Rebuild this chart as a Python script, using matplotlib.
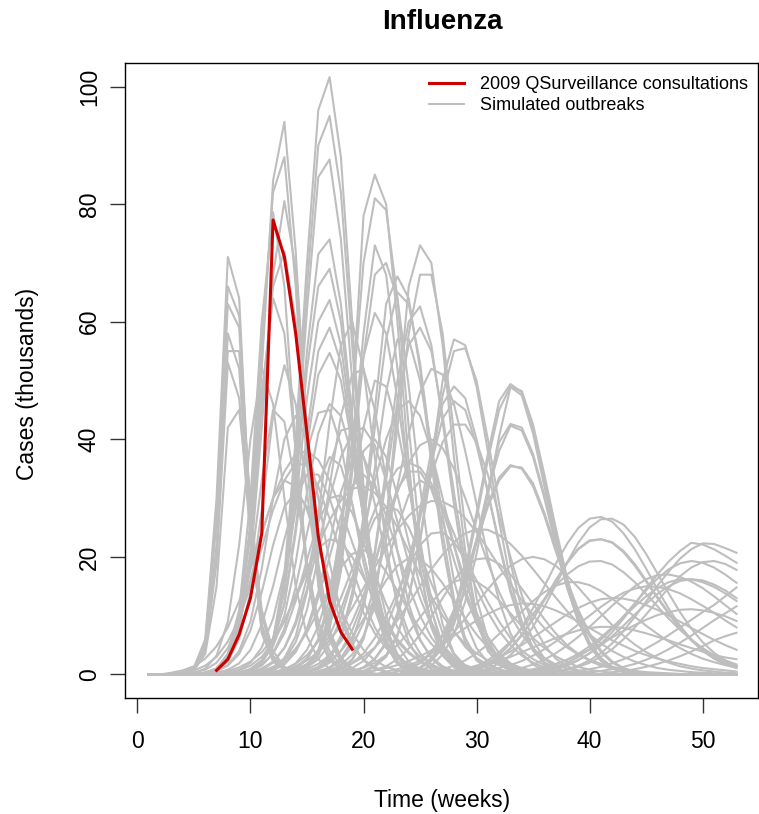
import numpy as np
import matplotlib
matplotlib.use("Agg")
import matplotlib.pyplot as plt

plt.rcParams['font.family'] = ['Liberation Sans', 'DejaVu Sans']

# weeks shown on the x axis
weeks = np.arange(1, 54)

# 2009 QSurveillance consultations (thousands), weeks 7..19
obs_start = 7
obs_cases = [0.7, 2.6, 6.8, 13.0, 24.0, 77.3, 71.0, 58.0, 41.0, 23.5, 12.5, 7.2, 4.3]

# simulated outbreaks: (first week, weekly cases in thousands)
sims_wk8 = [
    (3, [0.1, 0.3, 1.2, 6.0, 30, 71, 64, 25, 7.0, 2.2, 0.8, 0.3, 0.1]),
    (3, [0.1, 0.3, 1.1, 5.5, 28, 66, 61, 26, 7.5, 2.4, 0.8, 0.3, 0.1]),
    (3, [0.1, 0.3, 1.0, 5.0, 26, 63, 59, 27, 8.0, 2.6, 0.9, 0.3, 0.1]),
    (3, [0.1, 0.2, 0.8, 4.2, 20, 58, 52, 24, 8.5, 2.8, 1.0, 0.3, 0.1]),
    (3, [0.1, 0.2, 0.9, 4.5, 22, 55, 55, 29, 10, 3.2, 1.1, 0.4, 0.1]),
    (3, [0.1, 0.2, 0.8, 4.0, 19, 53, 47, 23, 8.0, 2.6, 0.9, 0.3, 0.1]),
    (3, [0.1, 0.2, 0.7, 3.5, 15, 42, 45, 27, 11, 4.0, 1.3, 0.4, 0.1]),
]
sims_wk12 = [
    (6, [0.3, 1.0, 3.0, 9.0, 24, 52, 84, 94, 72, 40, 17, 6.5, 2.4, 0.9, 0.3, 0.1]),
    (6, [0.3, 1.0, 3.2, 9.5, 26, 56, 82, 88, 66, 36, 15, 5.8, 2.1, 0.8, 0.3, 0.1]),
    (6, [0.3, 0.9, 2.6, 7.5, 19, 42, 68, 80.5, 69, 42, 19, 7.5, 2.8, 1.0, 0.3, 0.1]),
    (6, [0.3, 1.0, 3.5, 11, 30, 60, 78.6, 66, 38, 17, 6.5, 2.4, 0.9, 0.3, 0.1]),
    (6, [0.3, 0.9, 2.8, 8.0, 21, 46, 66, 72, 60, 37, 18, 7.5, 2.8, 1.0, 0.3, 0.1]),
    (6, [0.3, 1.0, 3.5, 10, 25, 48, 64, 58, 38, 19, 8.0, 3.0, 1.1, 0.4, 0.1]),
    (6, [0.2, 0.7, 2.2, 6.0, 14, 28, 44, 52.6, 46, 31, 16, 7.0, 2.8, 1.0, 0.4, 0.1]),
    (6, [0.3, 1.0, 3.0, 8.0, 18, 33, 45, 43, 32, 19, 9.0, 4.0, 1.5, 0.5, 0.2]),
    (5, [0.3, 1.0, 3.2, 9.0, 22, 40, 52, 46, 30, 15, 6.5, 2.6, 1.0, 0.4, 0.1]),
]
sims_wk17 = [
    (9, [0.2, 0.7, 2.0, 6.0, 17, 40, 70, 96, 101.6, 88, 60, 32, 14, 5.5, 2.0, 0.7, 0.2]),
    (9, [0.2, 0.6, 1.9, 5.6, 16, 37, 66, 90, 95, 82, 56, 30, 13, 5.0, 1.8, 0.6, 0.2]),
    (9, [0.2, 0.7, 2.0, 5.5, 15, 35, 62, 84.6, 87.6, 74, 50, 27, 12, 5.0, 1.8, 0.6, 0.2]),
    (9, [0.3, 0.8, 2.2, 6.0, 15, 33, 55, 71.5, 74, 63, 44, 26, 13, 5.5, 2.2, 0.8, 0.3]),
    (9, [0.3, 0.8, 2.1, 5.8, 14.5, 32, 52, 66, 69, 60, 43, 26, 13, 5.5, 2.2, 0.8, 0.3]),
    (9, [0.3, 0.9, 2.4, 6.0, 14, 29, 47, 60, 63.7, 56, 42, 27, 15, 7.0, 3.0, 1.1, 0.4]),
    (9, [0.3, 0.9, 2.3, 5.5, 12, 25, 41, 55, 59, 53, 40, 27, 15.5, 7.5, 3.2, 1.2, 0.4]),
    (9, [0.3, 0.9, 2.4, 5.5, 12, 24, 39, 51, 54.7, 50, 39, 27, 16, 8.0, 3.5, 1.4, 0.5]),
    (9, [0.3, 0.8, 2.1, 4.8, 10, 19, 31, 41, 46, 44, 37, 27, 18, 10, 5.0, 2.2, 0.9, 0.3]),
]
sims_wk21 = [
    (13, [0.2, 0.5, 1.3, 3.5, 9.0, 22, 46, 78, 85, 80, 60, 36, 18, 8.0, 3.2, 1.2, 0.4]),
    (13, [0.3, 0.7, 1.7, 4.2, 10.5, 24, 46, 70, 81, 79, 64, 42, 23, 11, 4.5, 1.7, 0.6, 0.2]),
    (14, [0.5, 1.3, 3.5, 8.5, 19, 37, 58, 73, 68, 52, 33, 18, 8.5, 3.5, 1.4, 0.5]),
    (14, [0.5, 1.2, 3.2, 7.8, 17.5, 34.5, 54, 68, 70, 64, 49, 32, 18, 8.5, 3.6, 1.4, 0.5]),
    (13, [0.4, 1.0, 2.5, 6.0, 13, 25, 40, 54, 61.5, 58, 47, 33, 20, 11, 5.0, 2.2, 0.9, 0.3]),
    (13, [0.5, 1.2, 2.8, 6.0, 11.5, 20, 31, 42, 50, 49, 42, 32, 22, 13, 7.0, 3.4, 1.5, 0.6, 0.2]),
    (11, [0.4, 1.1, 2.8, 6.5, 14, 27, 43, 56, 60, 52, 37, 22, 11.5, 5.5, 2.3, 0.9, 0.3]),
    (11, [0.4, 1.0, 2.5, 5.5, 11, 20, 32, 44, 51, 52, 45, 33, 21, 12, 6.0, 2.7, 1.1, 0.4]),
]
sims_wk23 = [
    (15, [0.4, 1.1, 2.8, 6.5, 14, 27, 45, 63, 67.7, 64, 52, 36, 22, 11.5, 5.5, 2.4, 1.0, 0.4]),
    (15, [0.4, 1.0, 2.6, 6.0, 13, 25.5, 42, 57, 65, 63, 53, 38, 24, 13, 6.2, 2.7, 1.1, 0.4]),
    (15, [0.5, 1.3, 3.0, 6.5, 13, 23, 35, 48, 57, 57, 50, 39, 27, 16, 9.0, 4.5, 2.0, 0.8, 0.3]),
    (14, [0.5, 1.2, 2.6, 5.2, 9.5, 16, 24, 33, 40, 45, 46.5, 44, 38, 30, 22, 14.5, 8.8, 5.0,
          2.6, 1.3, 0.6, 0.2]),
]
sims_wk25 = [
    (17, [0.3, 0.9, 2.4, 6.0, 13, 26, 45, 66, 73, 70, 56, 37, 21, 10, 4.3, 1.7, 0.6, 0.2]),
    (17, [0.4, 1.0, 2.6, 6.3, 13.5, 26, 42, 58, 68, 68, 58, 41, 25, 13, 6.0, 2.4, 0.9, 0.3]),
    (16, [0.4, 1.0, 2.5, 5.5, 11.5, 21, 35, 50, 60, 62.6, 56, 43, 29, 17, 9.0, 4.0, 1.7, 0.7, 0.3]),
    (16, [0.5, 1.2, 2.8, 5.8, 11.5, 20.5, 33, 46.5, 56, 59, 55, 44, 31, 19, 10.5, 5.0, 2.2, 0.9,
          0.3]),
    (16, [0.5, 1.1, 2.4, 4.8, 8.8, 15, 23, 32, 41, 48, 52, 51, 46, 38, 29, 20, 12.5, 7.0, 3.6,
          1.7, 0.7, 0.3]),
]
sims_wk28 = [
    (20, [0.5, 1.3, 3.0, 6.5, 13, 23, 36, 50, 57, 56, 49, 38, 26, 16, 9.0, 4.5, 2.0, 0.9, 0.4]),
    (20, [0.6, 1.5, 3.3, 6.8, 13, 22.5, 35, 47.5, 55, 55.5, 50, 40, 29, 19, 11, 5.8, 2.7, 1.2, 0.5]),
    (19, [0.5, 1.2, 2.7, 5.5, 10.5, 18, 28, 38, 46, 49, 47, 40, 31, 22, 14, 8.0, 4.0, 1.9, 0.8, 0.3]),
    (19, [0.5, 1.2, 2.6, 5.2, 9.8, 17, 26.5, 36, 43.5, 46.5, 45, 39, 31, 22.5, 14.5, 8.5, 4.4,
          2.1, 0.9, 0.3]),
    (18, [0.5, 1.1, 2.3, 4.5, 8.0, 13, 19.5, 27, 34, 39.5, 42.5, 42.5, 39.5, 34, 27, 20, 13.5,
          8.5, 5.0, 2.7, 1.4, 0.7, 0.3]),
]
sims_wk33 = [
    (24, [0.5, 1.2, 2.8, 5.5, 10.5, 18, 27.5, 37.5, 46.5, 49.4, 48, 42, 33, 24, 15.5, 9.0, 4.8,
          2.3, 1.0, 0.4]),
    (24, [0.4, 1.0, 2.5, 5.0, 9.8, 17, 26.5, 36.5, 45, 49, 48.2, 42.5, 34, 25, 16.5, 9.8, 5.3,
          2.6, 1.2, 0.5]),
    (25, [0.6, 1.5, 3.4, 6.8, 12.4, 20.5, 30.5, 40.5, 48.9, 47.5, 41, 32, 23, 15, 9.0, 5.0, 2.5,
          1.1, 0.4]),
    (24, [0.5, 1.1, 2.4, 4.8, 9.0, 15, 23, 31.5, 39.5, 42.6, 42, 37.5, 30.5, 22.5, 15, 9.5, 5.5,
          2.8, 1.3, 0.6, 0.2]),
    (24, [0.5, 1.1, 2.3, 4.5, 8.5, 14.5, 22.5, 31, 38, 42.3, 41.5, 37, 30, 22, 14.8, 9.2, 5.2,
          2.6, 1.2, 0.5]),
    (23, [0.5, 1.0, 2.0, 3.8, 6.8, 11, 16.5, 23, 29, 33.5, 35.6, 35, 32, 27, 21, 15.5, 10.5, 6.5,
          3.8, 2.0, 1.0, 0.5, 0.2]),
    (23, [0.5, 1.0, 1.9, 3.6, 6.5, 10.7, 16, 22.5, 28.5, 33, 35.4, 35.2, 32.5, 27.5, 21.5, 16, 11,
          7.0, 4.1, 2.2, 1.1, 0.5, 0.2]),
]
sims_wk41 = [
    (29, [0.5, 1.0, 1.9, 3.3, 5.3, 8.0, 11.3, 15, 18.8, 22.2, 24.9, 26.5, 26.8, 26, 24, 21.3, 18,
          14.5, 11.2, 8.3, 5.9, 4.0, 2.7, 1.7, 1.1]),
    (30, [0.5, 1.0, 1.9, 3.3, 5.3, 8.1, 11.5, 15.2, 19, 22.4, 25, 26.4, 26.5, 25.5, 23.4, 20.5,
          17.2, 13.8, 10.6, 7.8, 5.5, 3.7, 2.4, 1.5]),
    (29, [0.4, 0.8, 1.6, 2.8, 4.5, 6.8, 9.6, 12.8, 16, 19, 21.4, 22.8, 23, 22.4, 20.8, 18.5, 15.8,
          13, 10.3, 7.8, 5.8, 4.1, 2.9, 2.0, 1.3]),
    (29, [0.4, 0.8, 1.5, 2.7, 4.4, 6.6, 9.4, 12.6, 15.9, 18.9, 21.3, 22.7, 23, 22.5, 21, 18.8, 16,
          13.2, 10.5, 8.0, 6.0, 4.3, 3.0, 2.1, 1.4]),
    (28, [0.4, 0.8, 1.4, 2.4, 3.8, 5.6, 7.8, 10.3, 12.8, 15.1, 17, 18.4, 19.2, 19.3, 18.7, 17.4,
          15.7, 13.7, 11.6, 9.5, 7.6, 5.9, 4.5, 3.3, 2.4, 1.7]),
]
sims_wk49 = [
    (36, [0.5, 0.9, 1.5, 2.4, 3.6, 5.2, 7.2, 9.5, 12, 14.6, 17, 19.2, 21, 22.4, 22.1, 21.3, 20.2, 19]),
    (37, [0.5, 0.9, 1.5, 2.4, 3.6, 5.3, 7.4, 9.8, 12.4, 15.1, 17.5, 19.7, 21.3, 22.3, 22.2, 21.5,
          20.7]),
    (35, [0.5, 0.8, 1.3, 2.0, 3.0, 4.3, 5.9, 7.8, 9.9, 12.1, 14.3, 16.3, 17.9, 18.9, 19.3, 19,
          18.2, 17, 15.6]),
    (37, [0.5, 0.8, 1.3, 2.0, 3.0, 4.3, 6.0, 8.0, 10.2, 12.5, 14.7, 16.7, 18.2, 19.1, 19.3, 18.8,
          17.8]),
    (34, [0.4, 0.7, 1.1, 1.7, 2.5, 3.5, 4.8, 6.3, 8.0, 9.8, 11.6, 13.3, 14.7, 15.7, 16.2, 16.2,
          15.7, 14.9, 13.8, 12.5]),
    (35, [0.4, 0.7, 1.1, 1.7, 2.5, 3.6, 4.9, 6.5, 8.3, 10.2, 12, 13.7, 15, 15.9, 16.2, 16, 15.3,
          14.3, 13]),
]
sims_tail = [
    (32, [0.4, 0.7, 1.1, 1.7, 2.5, 3.6, 4.9, 6.4, 8.1, 9.9, 11.7, 13.4, 15, 16.2, 16.9, 17, 16.6,
          15.8, 14.7, 13.3, 11.8, 10.3]),
    (30, [0.4, 0.7, 1.1, 1.6, 2.3, 3.2, 4.3, 5.6, 7.0, 8.5, 10, 11.5, 12.8, 13.9, 14.6, 15, 14.9,
          14.5, 13.8, 12.8, 11.7, 10.5, 9.2, 8.0]),
    (27, [0.4, 0.7, 1.0, 1.5, 2.1, 2.9, 3.9, 5.0, 6.3, 7.6, 8.9, 10.2, 11.3, 12.2, 12.8, 13, 12.9,
          12.5, 11.8, 11, 10, 9.0, 7.9, 6.9, 5.9, 5.0, 4.2]),
    (26, [0.5, 0.9, 1.5, 2.4, 3.6, 5.1, 6.9, 8.8, 10.7, 12.5, 14, 15.1, 15.7, 15.7, 15.2, 14.2,
          12.9, 11.4, 9.8, 8.3, 6.9, 5.6, 4.5, 3.5, 2.7, 2.1, 1.6, 1.2]),
    (33, [0.4, 0.6, 0.9, 1.3, 1.8, 2.5, 3.3, 4.2, 5.2, 6.3, 7.4, 8.4, 9.3, 10.1, 10.6, 11, 11.1,
          10.9, 10.5, 9.9, 9.1]),
    (38, [0.4, 0.6, 0.9, 1.3, 1.9, 2.6, 3.4, 4.4, 5.5, 6.7, 8.0, 9.3, 10.6, 11.8, 13.3, 14.8]),
    (40, [0.4, 0.6, 0.9, 1.3, 1.8, 2.5, 3.3, 4.3, 5.4, 6.6, 7.9, 9.2, 10.4, 11.6]),
    (42, [0.4, 0.6, 0.9, 1.3, 1.8, 2.4, 3.1, 3.9, 4.8, 5.8, 6.5, 7.1]),
    (27, [0.3, 0.5, 0.8, 1.2, 1.7, 2.3, 3.0, 3.8, 4.6, 5.4, 6.2, 6.9, 7.5, 7.9, 8.1, 8.1, 7.9,
          7.5, 7.0, 6.4, 5.8, 5.1, 4.5, 3.9, 3.3, 2.9, 2.6]),
    (22, [0.5, 0.9, 1.5, 2.4, 3.6, 5.2, 7.2, 9.5, 12, 14.5, 16.7, 18.5, 19.6, 20, 19.6, 18.5,
          16.8, 14.8, 12.6, 10.4, 8.4, 6.6, 5.1, 3.8, 2.8, 2.0, 1.4, 1.0, 0.7, 0.5, 0.3, 0.2]),
    (20, [0.4, 0.7, 1.1, 1.6, 2.3, 3.1, 4.1, 5.3, 6.6, 7.9, 9.2, 10.3, 11.2, 11.8, 12.1, 12, 11.6,
          10.9, 10, 9.0, 7.9, 6.8, 5.8, 4.9, 4.0, 3.3, 2.7, 2.2, 1.8, 1.4, 1.1, 0.9, 0.7, 0.5]),
]
sims_broad = [
    (12, [0.4, 0.8, 1.4, 2.4, 3.8, 5.8, 8.3, 11.3, 14.7, 18.2, 21.6, 24.6, 27, 28.7, 29.5, 29.4,
          28.4, 26.6, 24.2, 21.4, 18.4, 15.4, 12.6, 10.1, 7.9, 6.1, 4.6, 3.4, 2.5, 1.8, 1.3, 0.9,
          0.6, 0.4, 0.3, 0.2, 0.1]),
    (16, [0.3, 0.6, 1.1, 1.9, 3.0, 4.6, 6.7, 9.2, 12, 15, 17.9, 20.4, 22.5, 24, 24.7, 24.6, 23.7,
          22.2, 20.2, 17.9, 15.5, 13.1, 10.8, 8.7, 6.8, 5.3, 4.0, 3.0, 2.2, 1.6, 1.1, 0.8, 0.6,
          0.4, 0.3, 0.2, 0.1, 0.1]),
    (3, [0.3, 0.7, 1.4, 2.7, 4.8, 8.0, 12.5, 18, 24, 30, 34.5, 37.5, 38, 36.5, 33, 28, 22.5, 17,
         12.3, 8.5, 5.6, 3.6, 2.2, 1.3, 0.8, 0.5, 0.3, 0.2]),
    (7, [0.3, 0.6, 1.2, 2.2, 3.8, 6.1, 9.2, 13, 17.4, 22, 26.2, 29.6, 31.6, 32, 30.9, 28.5, 25, 21,
         17, 13.3, 10, 7.3, 5.2, 3.6, 2.4, 1.6, 1.0, 0.6, 0.4, 0.2]),
    (10, [0.4, 1.0, 2.2, 4.5, 8.5, 14.5, 22, 30, 37, 41, 42, 39, 33, 26, 19, 13, 8.3, 5.0, 2.9,
          1.6, 0.9, 0.5, 0.2]),
    (4, [0.3, 0.7, 1.5, 3.0, 5.6, 9.5, 15, 21.5, 28, 33, 36, 35.5, 32, 26.5, 20.5, 15, 10.5, 7.0,
         4.5, 2.8, 1.7, 1.0, 0.6, 0.3]),
    (12, [0.4, 0.9, 1.8, 3.3, 5.6, 8.8, 13, 18, 23, 28, 32, 35, 36, 35.2, 32.5, 28.5, 24, 19,
          14.5, 10.6, 7.4, 5.0, 3.2, 2.0, 1.2, 0.7, 0.4, 0.2]),
    (14, [0.4, 0.9, 1.8, 3.3, 5.6, 9.0, 13.5, 19, 25, 31, 36, 39, 40, 38.5, 35, 30, 24.5, 19, 14,
          10, 6.8, 4.4, 2.8, 1.7, 1.0, 0.6, 0.3]),
    (5, [0.3, 0.8, 2.0, 4.5, 9.0, 16, 24, 30, 33, 32, 28, 22, 16, 11, 7.0, 4.2, 2.4, 1.3, 0.7, 0.3]),
    (7, [0.3, 0.8, 1.9, 4.2, 8.5, 15, 23, 30, 34, 34, 30, 24, 18, 12.5, 8.0, 5.0, 3.0, 1.7, 0.9,
         0.4]),
    (9, [0.3, 0.7, 1.6, 3.5, 7.0, 12.5, 19.5, 26, 30, 30.5, 27.5, 22.5, 17, 12, 8.0, 5.0, 3.0,
         1.7, 0.9, 0.4]),
    (11, [0.4, 0.9, 2.0, 4.0, 7.5, 13, 20, 27, 32, 34, 32, 27, 21, 15, 10, 6.3, 3.8, 2.2, 1.2,
          0.6, 0.3]),
    (13, [0.3, 0.8, 1.8, 3.6, 6.6, 11, 16.5, 22, 26.5, 28.5, 28, 25, 20.5, 15.5, 11, 7.4, 4.7,
          2.8, 1.6, 0.9, 0.4]),
    (17, [0.4, 0.9, 1.9, 3.6, 6.2, 9.8, 14, 18.5, 22, 24, 24.2, 22.5, 19.5, 16, 12.3, 9.0, 6.2,
          4.1, 2.6, 1.6, 0.9, 0.5, 0.3]),
    (20, [0.3, 0.7, 1.4, 2.6, 4.4, 6.8, 9.8, 13, 16, 18.3, 19.6, 19.8, 18.8, 17, 14.6, 12, 9.4,
          7.0, 5.0, 3.5, 2.3, 1.5, 1.0, 0.6, 0.4, 0.2]),
    (6, [0.2, 0.6, 1.6, 4.0, 9.0, 18, 30, 40, 44, 40, 30, 19, 10.5, 5.2, 2.4, 1.0, 0.4]),
    (8, [0.3, 0.8, 2.0, 4.6, 9.5, 17.5, 28, 38, 44.5, 45, 39, 29, 19, 11, 5.8, 2.8, 1.3, 0.5]),
    (10, [0.3, 0.8, 2.0, 4.5, 9.0, 16.5, 26, 35.5, 41.5, 42, 37, 29, 20, 12.5, 7.0, 3.6, 1.7,
          0.7, 0.3]),
    (12, [0.3, 0.8, 1.9, 4.2, 8.2, 14.5, 23, 31.5, 38, 40, 37, 30.5, 22.5, 15, 9.0, 5.0, 2.6,
          1.2, 0.5]),
    (15, [0.4, 0.9, 2.0, 4.0, 7.5, 12.5, 19, 26, 31.5, 34.5, 34.5, 31.5, 26, 19.5, 13.5, 8.7,
          5.2, 2.9, 1.5, 0.7, 0.3]),
    (8, [0.3, 0.7, 1.5, 3.0, 5.5, 9.0, 13.5, 18, 21.5, 23, 22.5, 20, 16.5, 12.5, 9.0, 6.0, 3.8,
         2.3, 1.3, 0.7, 0.3]),
    (10, [0.3, 0.6, 1.3, 2.5, 4.4, 7.2, 10.8, 14.7, 18.2, 20.5, 21.2, 20, 17.5, 14.2, 10.8, 7.7,
          5.2, 3.3, 2.0, 1.1, 0.6, 0.3]),
    (14, [0.3, 0.6, 1.2, 2.3, 4.0, 6.4, 9.4, 12.8, 16, 18.5, 19.8, 19.6, 18, 15.5, 12.5, 9.5, 6.8,
          4.6, 3.0, 1.8, 1.1, 0.6, 0.3]),
    (18, [0.3, 0.6, 1.1, 2.0, 3.3, 5.0, 7.2, 9.7, 12.2, 14.4, 15.8, 16.3, 15.8, 14.5, 12.6, 10.4,
          8.2, 6.2, 4.5, 3.1, 2.1, 1.3, 0.8, 0.5, 0.3]),
    (6, [0.2, 0.6, 1.5, 3.5, 7.5, 14, 22, 28.5, 31, 28.5, 22, 15, 9.0, 5.0, 2.5, 1.2, 0.5]),
    (9, [0.2, 0.6, 1.5, 3.6, 7.8, 14.8, 24, 32.5, 37, 35.5, 29, 20.5, 12.5, 6.8, 3.3, 1.5, 0.6]),
    (11, [0.3, 0.7, 1.7, 3.8, 7.8, 14, 22.5, 31, 36.5, 37, 32.5, 25, 17, 10.5, 5.8, 3.0, 1.4,
          0.6]),
    (16, [0.3, 0.7, 1.6, 3.4, 6.5, 11.5, 18, 25, 30.5, 33, 32, 28, 22, 16, 10.5, 6.4, 3.6, 1.9,
          0.9, 0.4]),
]

all_sims = (sims_broad + sims_tail + sims_wk49 + sims_wk41 + sims_wk33 + sims_wk28
            + sims_wk25 + sims_wk23 + sims_wk21 + sims_wk17 + sims_wk12 + sims_wk8)


def full_series(start, values):
    # weeks before the outbreak and after the listed values sit on the zero baseline
    y = np.zeros(len(weeks))
    n = min(len(values), len(weeks) - start + 1)
    y[start - 1:start - 1 + n] = values[:n]
    return y


W, H = 759, 814
fig = plt.figure(figsize=(W / 100, H / 100), dpi=100)
ax = fig.add_axes([125 / W, 1 - 698 / H, 633 / W, 635 / H])

for k, (start, vals) in enumerate(all_sims):
    ax.plot(weeks, full_series(start, vals), color='#BEBEBE', lw=1.5,
            label='Simulated outbreaks' if k == 0 else None, zorder=2)

obs_weeks = np.arange(obs_start, obs_start + len(obs_cases))
ax.plot(obs_weeks, obs_cases, color='#CD0000', lw=2.2,
        label='2009 QSurveillance consultations', zorder=3)

ax.set_xlim(-1.1, 54.9)
ax.set_ylim(-4, 104)
ax.set_xticks([0, 10, 20, 30, 40, 50])
ax.set_yticks([0, 20, 40, 60, 80, 100])
ax.tick_params(axis='both', direction='out', length=10.8, width=1.0, labelsize=16.5,
               color='#333333')
ax.tick_params(axis='x', pad=12)
ax.tick_params(axis='y', pad=6.5)
for lab in ax.get_yticklabels():
    lab.set_rotation(90)
    lab.set_va('center')
for sp in ax.spines.values():
    sp.set_linewidth(1.0)

handles, labels = ax.get_legend_handles_labels()
order = [labels.index('2009 QSurveillance consultations'), labels.index('Simulated outbreaks')]
ax.legend([handles[i] for i in order], [labels[i] for i in order],
          loc='upper left', bbox_to_anchor=(429 / W, 1 - 76 / H), bbox_transform=fig.transFigure,
          frameon=False, fontsize=13, handlelength=1.94, handletextpad=0.9,
          labelspacing=0.24, borderpad=0, borderaxespad=0)

fig.text(442.5 / W, 1 - 22 / H, 'Influenza', ha='center', va='center',
         fontsize=20, fontweight='bold')
fig.text(442.5 / W, 1 - 800 / H, 'Time (weeks)', ha='center', va='center', fontsize=16.5)
fig.text(28 / W, 1 - 384 / H, 'Cases (thousands)', ha='center', va='center',
         rotation=90, fontsize=16.5)

fig.savefig('out.png', dpi=100)
